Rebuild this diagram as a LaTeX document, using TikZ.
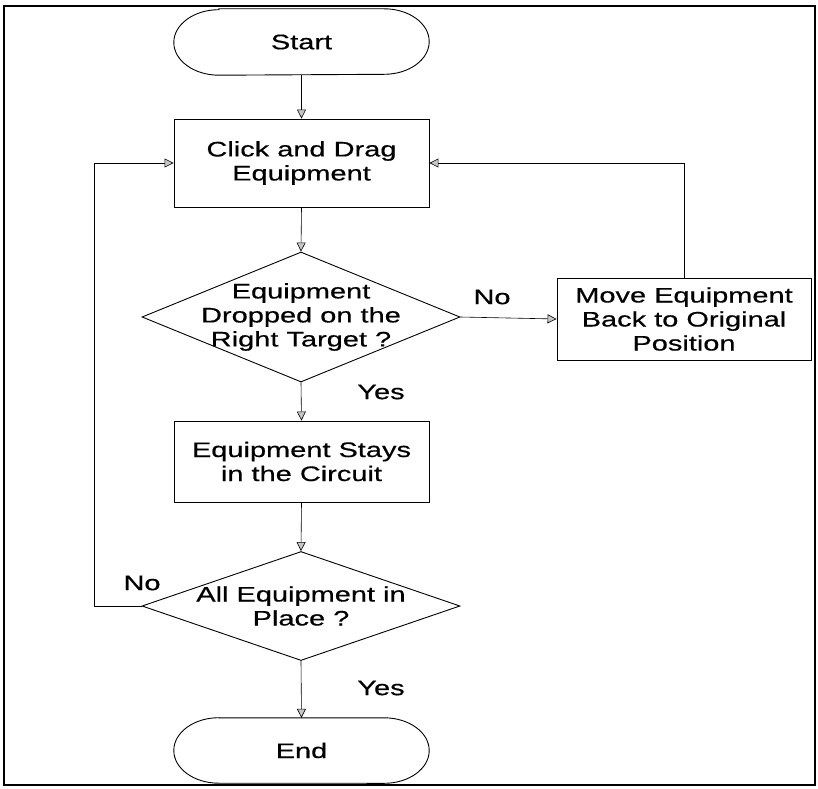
\documentclass[tikz,border=0pt]{standalone}
\usepackage{fontspec}
\setmainfont{Liberation Sans}[FakeStretch=1.38,FakeBold=0.5]
\usetikzlibrary{shapes.geometric,arrows.meta}
\begin{document}
\begin{tikzpicture}[x=1bp,y=-1bp,
  font=\fontsize{21bp}{24bp}\selectfont,
  proc/.style={draw, line width=0.9bp, rectangle, minimum width=255bp, inner sep=0pt, align=center},
  decision/.style={draw, line width=0.9bp, shape=diamond, minimum width=318bp, inner sep=0pt},
  dtext/.style={align=center, inner sep=0pt},
  terminal/.style={rectangle, minimum width=255bp, inner sep=0pt},
  conn/.style={line width=0.6bp, -{Triangle[length=9bp,width=9bp,fill=gray!45]}},
  lbl/.style={inner sep=0pt}
]
\useasboundingbox (0,0) rectangle (818,789);
% outer frame
\draw[line width=1.4bp] (4,6) rectangle (815,785);

% terminal outline with elliptical ends
\def\termoutline#1{%
  \draw[line width=0.9bp] ([xshift=45bp]#1.north west) -- ([xshift=-45bp]#1.north east)
    arc[start angle=90, end angle=-90, x radius=45bp, y radius=32.75bp]
    -- ([xshift=45bp]#1.south west)
    arc[start angle=270, end angle=90, x radius=45bp, y radius=32.75bp] -- cycle;}

\node[terminal, minimum height=66bp] (start) at (301.5,42) {Start};
\termoutline{start}

\node[proc, minimum height=88bp] (drag) at (301.5,163) {Click and Drag\\Equipment};

\node[decision, minimum height=130bp] (d1) at (301,317) {};
\node[dtext] at (d1) {Equipment\\Dropped on the\\Right Target ?};

\node[proc, minimum width=254bp, minimum height=82bp] (back) at (684,319) {Move Equipment\\Back to Original\\Position};

\node[proc, minimum height=81bp] (stay) at (301.5,461.5) {Equipment Stays\\in the Circuit};

\node[decision, minimum height=109bp] (d2) at (301,606) {};
\node[dtext] at (d2) {All Equipment in\\Place ?};

\node[terminal, minimum height=65bp] (end) at (301.5,750.5) {End};
\termoutline{end}

% connectors
\draw[conn] (start.south) -- (drag.north);
\draw[conn] (drag.south) -- (d1.north);
\draw[conn] (d1.east) -- (back.west);
\draw[conn] (d1.south) -- (stay.north);
\draw[conn] (stay.south) -- (d2.north);
\draw[conn] (d2.south) -- (end.north);
\coordinate (loopL) at (94,606);
\draw[conn] (d2.west) -- (loopL) |- (drag.west);
\draw[conn] (back.north) |- (drag.east);

% branch labels
\node[lbl] at (492,297) {No};
\node[lbl] at (381,392) {Yes};
\node[lbl] at (142,583) {No};
\node[lbl] at (381,688) {Yes};
\end{tikzpicture}
\end{document}
